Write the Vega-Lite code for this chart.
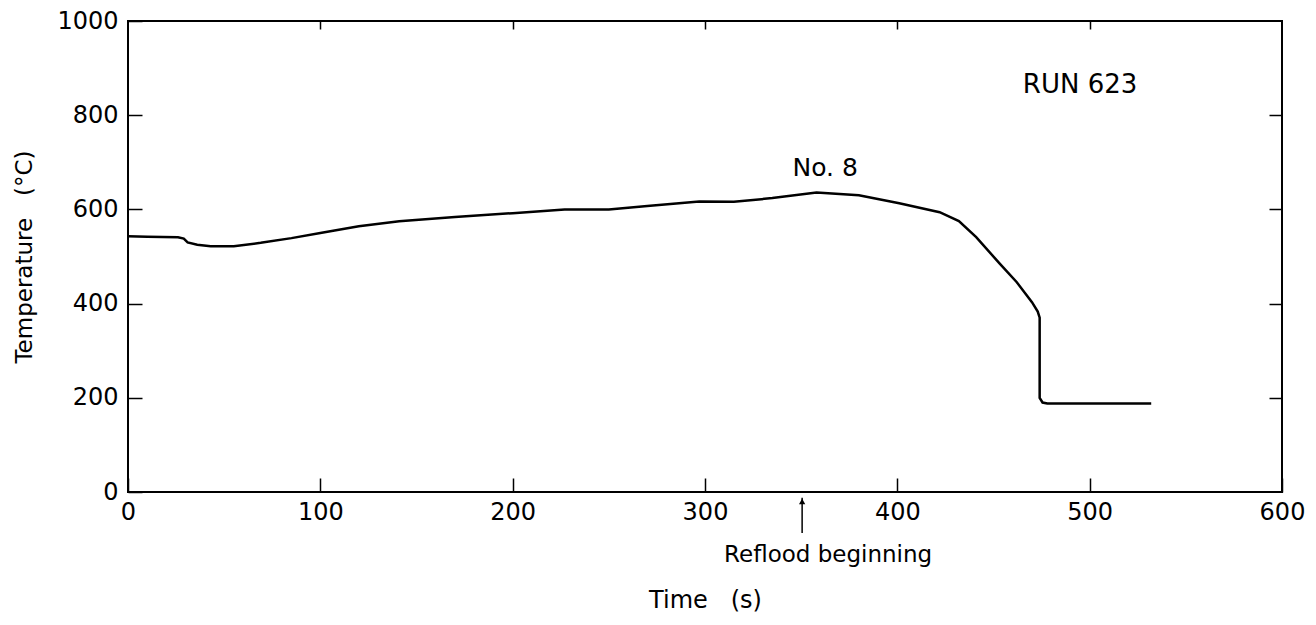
{
  "$schema": "https://vega.github.io/schema/vega-lite/v6.json",
  "width": 1154,
  "height": 471,
  "autosize": {"type": "none"},
  "padding": {"left": 128, "top": 21, "right": 34, "bottom": 133},
  "background": "white",
  "config": {
    "view": {"stroke": "black", "strokeWidth": 2},
    "axis": {
      "grid": false,
      "domain": false,
      "tickColor": "black",
      "tickWidth": 1.5,
      "labelColor": "black",
      "titleColor": "black",
      "labelFont": "DejaVu Sans",
      "titleFont": "DejaVu Sans",
      "labelFontSize": 24,
      "titleFontSize": 22,
      "titleFontWeight": "normal",
      "labelFlush": false,
      "labelOverlap": false,
      "format": "d"
    },
    "text": {"font": "DejaVu Sans", "color": "black"}
  },
  "datasets": {
    "curve": [
      {"t": 0, "T": 543}, {"t": 10, "T": 542}, {"t": 26, "T": 541}, {"t": 29, "T": 538},
      {"t": 31, "T": 530}, {"t": 36, "T": 525}, {"t": 43, "T": 522}, {"t": 55, "T": 522},
      {"t": 69, "T": 529}, {"t": 85, "T": 539}, {"t": 100, "T": 550}, {"t": 120, "T": 564},
      {"t": 141, "T": 575}, {"t": 170, "T": 584}, {"t": 200, "T": 592}, {"t": 227, "T": 600},
      {"t": 250, "T": 600}, {"t": 270, "T": 607}, {"t": 297, "T": 617}, {"t": 315, "T": 616},
      {"t": 335, "T": 624}, {"t": 358, "T": 636}, {"t": 380, "T": 630}, {"t": 401, "T": 613},
      {"t": 422, "T": 594}, {"t": 432, "T": 575}, {"t": 441, "T": 541}, {"t": 453, "T": 486},
      {"t": 462, "T": 446}, {"t": 470, "T": 403}, {"t": 473, "T": 383}, {"t": 474, "T": 370},
      {"t": 474, "T": 200}, {"t": 475.5, "T": 190}, {"t": 478, "T": 188}, {"t": 532, "T": 188}
    ],
    "labels": [
      {"t": 495, "T": 847, "label": "RUN 623", "size": 26},
      {"t": 362.5, "T": 671, "label": "No. 8", "size": 25},
      {"t": 364, "T": -149, "label": "Reflood beginning", "size": 23}
    ],
    "arrow": [{"t": 350.5, "T1": -87, "T2": -12, "Thead": -20}]
  },
  "layer": [
    {
      "data": {"name": "curve"},
      "mark": {"type": "line", "color": "black", "strokeWidth": 2.5},
      "encoding": {
        "x": {
          "field": "t", "type": "quantitative",
          "scale": {"domain": [0, 600], "nice": false},
          "axis": {"orient": "bottom", "values": [0, 100, 200, 300, 400, 500, 600], "tickSize": -14, "labelPadding": 22, "title": "Time\u00a0\u00a0\u00a0(s)", "titlePadding": 64, "titleFontSize": 24}
        },
        "y": {
          "field": "T", "type": "quantitative",
          "scale": {"domain": [0, 1000], "nice": false, "zero": false},
          "axis": {"orient": "left", "values": [0, 200, 400, 600, 800, 1000], "tickSize": -14, "labelPadding": 24, "title": "Temperature\u00a0\u00a0\u00a0(°C)", "titlePadding": 20, "titleFontSize": 23}
        }
      }
    },
    {
      "data": {"name": "labels"},
      "mark": {"type": "text", "align": "center", "baseline": "alphabetic"},
      "encoding": {
        "x": {"field": "t", "type": "quantitative",
          "axis": {"orient": "top", "values": [100, 200, 300, 400, 500], "tickSize": -8, "labels": false, "title": null}},
        "y": {"field": "T", "type": "quantitative",
          "axis": {"orient": "right", "values": [200, 400, 600, 800], "tickSize": -13, "labels": false, "title": null}},
        "text": {"field": "label"},
        "size": {"field": "size", "type": "quantitative", "scale": null}
      }
    },
    {
      "data": {"name": "arrow"},
      "mark": {"type": "rule", "color": "black", "strokeWidth": 1.5},
      "encoding": {
        "x": {"field": "t", "type": "quantitative", "axis": null},
        "y": {"field": "T1", "type": "quantitative", "axis": null},
        "y2": {"field": "T2"}
      }
    },
    {
      "data": {"name": "arrow"},
      "mark": {"type": "point", "shape": "triangle-up", "filled": true, "color": "black", "size": 40, "opacity": 1},
      "encoding": {
        "x": {"field": "t", "type": "quantitative", "axis": null},
        "y": {"field": "Thead", "type": "quantitative", "axis": null}
      }
    }
  ],
  "resolve": {"axis": {"x": "independent", "y": "independent"}}
}
